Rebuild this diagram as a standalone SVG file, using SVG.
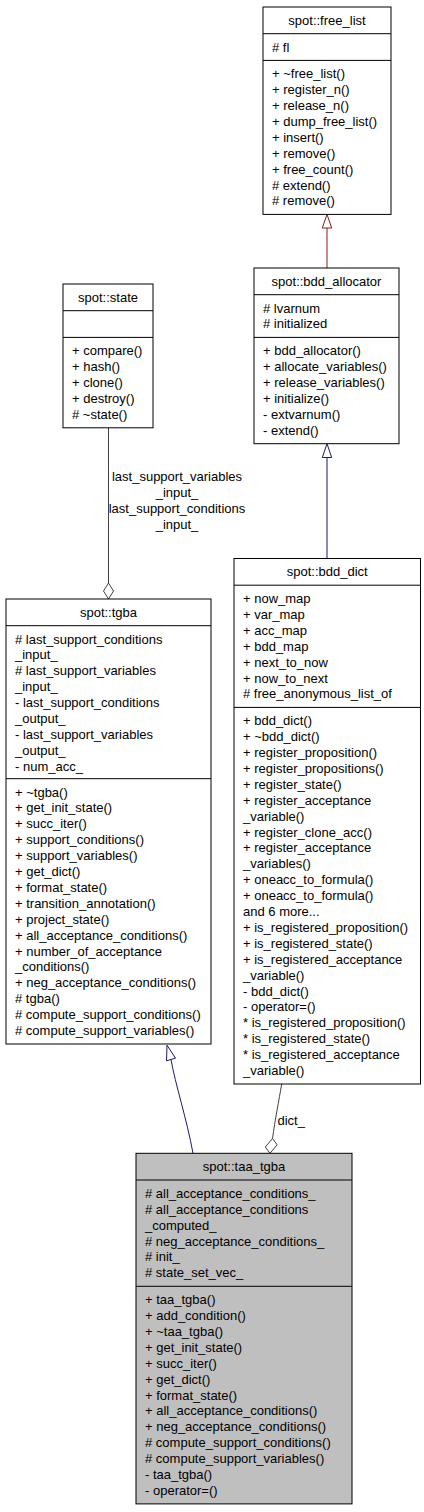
<svg xmlns="http://www.w3.org/2000/svg" width="424" height="1512" viewBox="0 0 424 1512">
<style>
text { font-family: "Liberation Sans", Arial, Helvetica, sans-serif; font-size: 13px; fill: #000; }
.t { text-anchor: middle; }
.box { fill: #fff; stroke: #000; stroke-width: 1; }
.cur { fill: #bfbfbf; stroke: #000; stroke-width: 1; }
.sep { stroke: #000; stroke-width: 1; }
.pub { fill: none; stroke: #191970; stroke-width: 1; }
.pubh { fill: #fff; stroke: #191970; stroke-width: 1; }
.priv { fill: none; stroke: #8b1a1a; stroke-width: 1; }
.privh { fill: #fff; stroke: #8b1a1a; stroke-width: 1; }
.use { fill: none; stroke: #404040; stroke-width: 1; }
.useh { fill: #fff; stroke: #404040; stroke-width: 1; }
</style>
<rect width="424" height="1512" fill="#fff"/>
<g id="connectors">
  <line class="priv" x1="327" y1="268" x2="327" y2="228"/>
  <polygon class="privh" points="327,214.4 322.3,228 331.7,228"/>
  <line class="pub" x1="327" y1="558.5" x2="327" y2="457.5"/>
  <polygon class="pubh" points="327,443.7 322.3,457.5 331.7,457.5"/>
  <line class="use" x1="108.5" y1="427.8" x2="108.5" y2="583"/>
  <polygon class="useh" points="108.5,599 103.5,591 108.5,583 113.5,591"/>
  <text class="t" x="177" y="481.2">last_support_variables</text>
  <text class="t" x="177" y="497.1">_input_</text>
  <text class="t" x="177" y="513">last_support_conditions</text>
  <text class="t" x="177" y="528.9">_input_</text>
  <path class="use" d="M281.7,1084 C279,1100 275,1120 272.5,1138.5"/>
  <polygon class="useh" points="270,1153.3 265.3,1147 272.5,1138.5 277.2,1144.8"/>
  <text x="277.5" y="1124.5">dict_</text>
  <path class="pub" d="M193,1153.3 C187,1120 175,1083 171,1059.5"/>
  <polygon class="pubh" points="167,1045.2 166.5,1060.8 175.5,1058.2"/>
</g>
<g id="free_list">
  <rect class="box" x="263" y="7" width="128" height="207.4"/>
  <line class="sep" x1="263" y1="33.7" x2="391" y2="33.7"/>
  <line class="sep" x1="263" y1="60.4" x2="391" y2="60.4"/>
  <text class="t" x="327" y="24.8">spot::free_list</text>
  <text x="272" y="51.5"># fl</text>
  <text x="272" y="78.2"><tspan x="272">+ ~free_list()</tspan><tspan x="272" dy="15.9">+ register_n()</tspan><tspan x="272" dy="15.9">+ release_n()</tspan><tspan x="272" dy="15.9">+ dump_free_list()</tspan><tspan x="272" dy="15.9">+ insert()</tspan><tspan x="272" dy="15.9">+ remove()</tspan><tspan x="272" dy="15.9">+ free_count()</tspan><tspan x="272" dy="15.9"># extend()</tspan><tspan x="272" dy="15.9"># remove()</tspan></text>
</g>
<g id="bdd_allocator">
  <rect class="box" x="254" y="268" width="145" height="175.7"/>
  <line class="sep" x1="254" y1="294.7" x2="399" y2="294.7"/>
  <line class="sep" x1="254" y1="337.4" x2="399" y2="337.4"/>
  <text class="t" x="326.5" y="285.8">spot::bdd_allocator</text>
  <text x="263" y="312.5"><tspan x="263"># lvarnum</tspan><tspan x="263" dy="15.9"># initialized</tspan></text>
  <text x="263" y="355.2"><tspan x="263">+ bdd_allocator()</tspan><tspan x="263" dy="15.9">+ allocate_variables()</tspan><tspan x="263" dy="15.9">+ release_variables()</tspan><tspan x="263" dy="15.9">+ initialize()</tspan><tspan x="263" dy="15.9">- extvarnum()</tspan><tspan x="263" dy="15.9">- extend()</tspan></text>
</g>
<g id="state">
  <rect class="box" x="63" y="284" width="90" height="143.8"/>
  <line class="sep" x1="63" y1="310.7" x2="153" y2="310.7"/>
  <line class="sep" x1="63" y1="337.4" x2="153" y2="337.4"/>
  <text class="t" x="108" y="301.8">spot::state</text>
  <text x="72" y="355.2"><tspan x="72">+ compare()</tspan><tspan x="72" dy="15.9">+ hash()</tspan><tspan x="72" dy="15.9">+ clone()</tspan><tspan x="72" dy="15.9">+ destroy()</tspan><tspan x="72" dy="15.9"># ~state()</tspan></text>
</g>
<g id="tgba">
  <rect class="box" x="6" y="599" width="205" height="445"/>
  <line class="sep" x1="6" y1="625.7" x2="211" y2="625.7"/>
  <line class="sep" x1="6" y1="778.7" x2="211" y2="778.7"/>
  <text class="t" x="108.5" y="616.8">spot::tgba</text>
  <text x="15" y="643.5"><tspan x="15"># last_support_conditions</tspan><tspan x="15" dy="15.9">_input_</tspan><tspan x="15" dy="15.9"># last_support_variables</tspan><tspan x="15" dy="15.9">_input_</tspan><tspan x="15" dy="15.9">- last_support_conditions</tspan><tspan x="15" dy="15.9">_output_</tspan><tspan x="15" dy="15.9">- last_support_variables</tspan><tspan x="15" dy="15.9">_output_</tspan><tspan x="15" dy="15.9">- num_acc_</tspan></text>
  <text x="15" y="796.5"><tspan x="15">+ ~tgba()</tspan><tspan x="15" dy="15.9">+ get_init_state()</tspan><tspan x="15" dy="15.9">+ succ_iter()</tspan><tspan x="15" dy="15.9">+ support_conditions()</tspan><tspan x="15" dy="15.9">+ support_variables()</tspan><tspan x="15" dy="15.9">+ get_dict()</tspan><tspan x="15" dy="15.9">+ format_state()</tspan><tspan x="15" dy="15.9">+ transition_annotation()</tspan><tspan x="15" dy="15.9">+ project_state()</tspan><tspan x="15" dy="15.9">+ all_acceptance_conditions()</tspan><tspan x="15" dy="15.9">+ number_of_acceptance</tspan><tspan x="15" dy="15.9">_conditions()</tspan><tspan x="15" dy="15.9">+ neg_acceptance_conditions()</tspan><tspan x="15" dy="15.9"># tgba()</tspan><tspan x="15" dy="15.9"># compute_support_conditions()</tspan><tspan x="15" dy="15.9"># compute_support_variables()</tspan></text>
</g>
<g id="bdd_dict">
  <rect class="box" x="234" y="558.5" width="186.5" height="525.5"/>
  <line class="sep" x1="234" y1="585.2" x2="420.5" y2="585.2"/>
  <line class="sep" x1="234" y1="707.4" x2="420.5" y2="707.4"/>
  <text class="t" x="327.25" y="576.3">spot::bdd_dict</text>
  <text x="243" y="603"><tspan x="243">+ now_map</tspan><tspan x="243" dy="15.9">+ var_map</tspan><tspan x="243" dy="15.9">+ acc_map</tspan><tspan x="243" dy="15.9">+ bdd_map</tspan><tspan x="243" dy="15.9">+ next_to_now</tspan><tspan x="243" dy="15.9">+ now_to_next</tspan><tspan x="243" dy="15.9"># free_anonymous_list_of</tspan></text>
  <text x="243" y="725.2"><tspan x="243">+ bdd_dict()</tspan><tspan x="243" dy="15.9">+ ~bdd_dict()</tspan><tspan x="243" dy="15.9">+ register_proposition()</tspan><tspan x="243" dy="15.9">+ register_propositions()</tspan><tspan x="243" dy="15.9">+ register_state()</tspan><tspan x="243" dy="15.9">+ register_acceptance</tspan><tspan x="243" dy="15.9">_variable()</tspan><tspan x="243" dy="15.9">+ register_clone_acc()</tspan><tspan x="243" dy="15.9">+ register_acceptance</tspan><tspan x="243" dy="15.9">_variables()</tspan><tspan x="243" dy="15.9">+ oneacc_to_formula()</tspan><tspan x="243" dy="15.9">+ oneacc_to_formula()</tspan><tspan x="243" dy="15.9">and 6 more...</tspan><tspan x="243" dy="15.9">+ is_registered_proposition()</tspan><tspan x="243" dy="15.9">+ is_registered_state()</tspan><tspan x="243" dy="15.9">+ is_registered_acceptance</tspan><tspan x="243" dy="15.9">_variable()</tspan><tspan x="243" dy="15.9">- bdd_dict()</tspan><tspan x="243" dy="15.9">- operator=()</tspan><tspan x="243" dy="15.9">* is_registered_proposition()</tspan><tspan x="243" dy="15.9">* is_registered_state()</tspan><tspan x="243" dy="15.9">* is_registered_acceptance</tspan><tspan x="243" dy="15.9">_variable()</tspan></text>
</g>
<g id="taa_tgba">
  <rect class="cur" x="136" y="1153.3" width="216" height="350.6"/>
  <line class="sep" x1="136" y1="1180" x2="352" y2="1180"/>
  <line class="sep" x1="136" y1="1286.3" x2="352" y2="1286.3"/>
  <text class="t" x="244" y="1171.1">spot::taa_tgba</text>
  <text x="145" y="1197.8"><tspan x="145"># all_acceptance_conditions_</tspan><tspan x="145" dy="15.9"># all_acceptance_conditions</tspan><tspan x="145" dy="15.9">_computed_</tspan><tspan x="145" dy="15.9"># neg_acceptance_conditions_</tspan><tspan x="145" dy="15.9"># init_</tspan><tspan x="145" dy="15.9"># state_set_vec_</tspan></text>
  <text x="145" y="1304.1"><tspan x="145">+ taa_tgba()</tspan><tspan x="145" dy="15.9">+ add_condition()</tspan><tspan x="145" dy="15.9">+ ~taa_tgba()</tspan><tspan x="145" dy="15.9">+ get_init_state()</tspan><tspan x="145" dy="15.9">+ succ_iter()</tspan><tspan x="145" dy="15.9">+ get_dict()</tspan><tspan x="145" dy="15.9">+ format_state()</tspan><tspan x="145" dy="15.9">+ all_acceptance_conditions()</tspan><tspan x="145" dy="15.9">+ neg_acceptance_conditions()</tspan><tspan x="145" dy="15.9"># compute_support_conditions()</tspan><tspan x="145" dy="15.9"># compute_support_variables()</tspan><tspan x="145" dy="15.9">- taa_tgba()</tspan><tspan x="145" dy="15.9">- operator=()</tspan></text>
</g>
</svg>
